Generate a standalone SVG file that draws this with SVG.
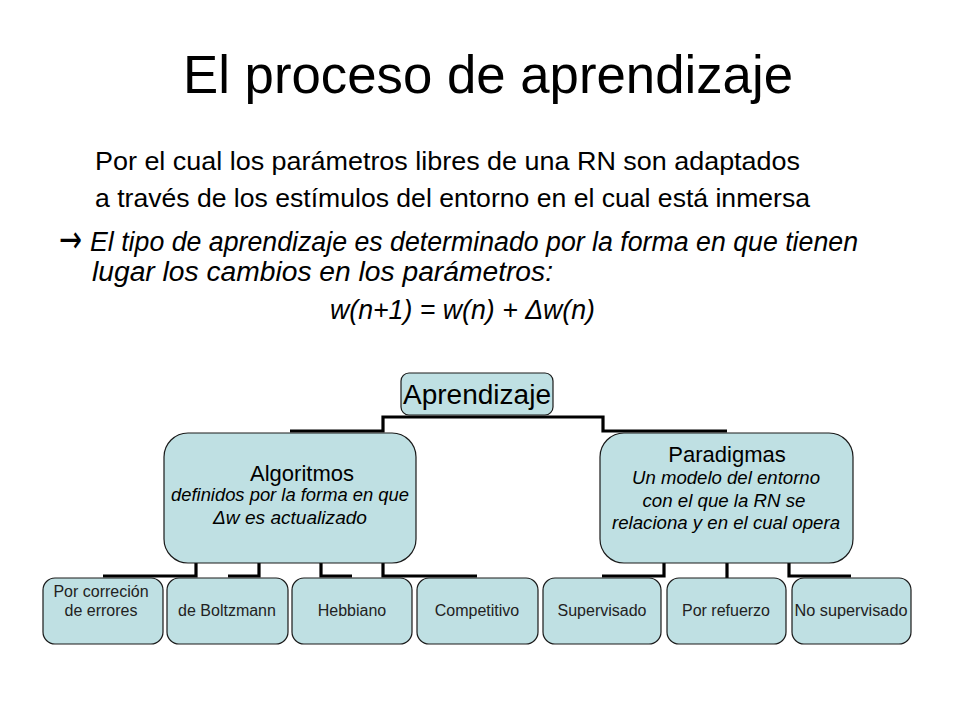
<svg xmlns="http://www.w3.org/2000/svg" width="960" height="720" viewBox="0 0 960 720">
<style>
  text { font-family: "Liberation Sans", Arial, sans-serif; fill: #000; }
  .title { font-size: 53px; }
  .body { font-size: 26px; }
  .bi { font-size: 27px; font-style: italic; }
  .it { font-style: italic; }
  .box { fill: #BFE0E3; stroke: #1a1a1a; stroke-width: 1.2; }
  .conn { fill: none; stroke: #000; stroke-width: 3.2; stroke-linejoin: miter; }
  .nt { font-size: 16px; text-anchor: middle; fill: #222; }
  .mid { text-anchor: middle; }
  .ni { font-size: 17.5px; font-style: italic; text-anchor: middle; }
</style>
<rect width="960" height="720" fill="#fff"/>

<text class="title" x="183" y="93" textLength="610" lengthAdjust="spacingAndGlyphs">El proceso de aprendizaje</text>

<g id="intro">
  <text class="body" x="95" y="170" textLength="705" lengthAdjust="spacingAndGlyphs">Por el cual los parámetros libres de una RN son adaptados</text>
  <text class="body" x="95" y="207" textLength="715" lengthAdjust="spacingAndGlyphs">a través de los estímulos del entorno en el cual está inmersa</text>
  <text x="59" y="252" style="font-family:'DejaVu Sans',sans-serif;font-size:38px" textLength="23" lengthAdjust="spacingAndGlyphs">→</text>
  <text class="bi" x="90" y="251" textLength="768" lengthAdjust="spacingAndGlyphs">El tipo de aprendizaje es determinado por la forma en que tienen</text>
  <text class="bi" x="92" y="281" textLength="461" lengthAdjust="spacingAndGlyphs">lugar los cambios en los parámetros:</text>
  <text class="bi" x="330" y="319" textLength="265" lengthAdjust="spacingAndGlyphs">w(n+1) = w(n) + Δw(n)</text>
</g>

<g id="connectors">
  <path class="conn" d="M290,431 H383 V417 H603 V431 H727"/>
  <path class="conn" d="M103,576 H196 V563 M228,576 H259 V563 M321,563 V576 H352 M383,563 V576 H477"/>
  <path class="conn" d="M602,576 H664 V563 M727,563 V578 M789,563 V576 H851"/>
</g>

<g id="aprendizaje">
  <rect class="box" x="401" y="373" width="152" height="42" rx="8"/>
  <text class="mid" x="477" y="404" style="font-size:27px" textLength="148" lengthAdjust="spacingAndGlyphs">Aprendizaje</text>
</g>

<g id="algoritmos">
  <rect class="box" x="164" y="433" width="252" height="130" rx="24"/>
  <text class="mid" x="302" y="481" style="font-size:22px">Algoritmos</text>
  <text class="ni" x="290" y="501" textLength="238" lengthAdjust="spacingAndGlyphs">definidos por la forma en que</text>
  <text class="ni" x="290" y="524" textLength="154" lengthAdjust="spacingAndGlyphs">Δw es actualizado</text>
</g>

<g id="paradigmas">
  <rect class="box" x="600" y="433" width="253" height="130" rx="24"/>
  <text class="mid" x="727" y="462" style="font-size:22px">Paradigmas</text>
  <text class="ni" x="726" y="484" textLength="188" lengthAdjust="spacingAndGlyphs">Un modelo del entorno</text>
  <text class="ni" x="724" y="507" textLength="163" lengthAdjust="spacingAndGlyphs">con el que la RN se</text>
  <text class="ni" x="726" y="529" textLength="228" lengthAdjust="spacingAndGlyphs">relaciona y en el cual opera</text>
</g>

<g id="correcion">
  <rect class="box" x="43" y="578" width="120" height="66" rx="12"/>
  <text class="nt" x="101" y="597">Por correción</text>
  <text class="nt" x="101" y="616">de errores</text>
</g>
<g id="boltzmann">
  <rect class="box" x="167" y="578" width="121" height="66" rx="12"/>
  <text class="nt" x="227" y="616">de Boltzmann</text>
</g>
<g id="hebbiano">
  <rect class="box" x="292" y="578" width="120" height="66" rx="12"/>
  <text class="nt" x="352" y="616">Hebbiano</text>
</g>
<g id="competitivo">
  <rect class="box" x="417" y="578" width="121" height="66" rx="12"/>
  <text class="nt" x="477" y="616">Competitivo</text>
</g>
<g id="supervisado">
  <rect class="box" x="543" y="578" width="118" height="66" rx="12"/>
  <text class="nt" x="602" y="616">Supervisado</text>
</g>
<g id="refuerzo">
  <rect class="box" x="667" y="578" width="119" height="66" rx="12"/>
  <text class="nt" x="726" y="616">Por refuerzo</text>
</g>
<g id="nosupervisado">
  <rect class="box" x="792" y="578" width="119" height="66" rx="12"/>
  <text class="nt" x="851" y="616" textLength="113" lengthAdjust="spacingAndGlyphs">No supervisado</text>
</g>
</svg>
